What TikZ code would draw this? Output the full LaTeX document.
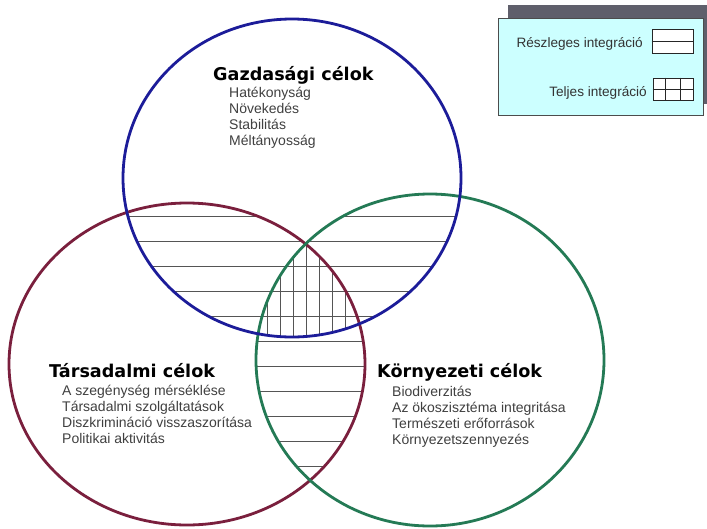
\documentclass[tikz,border=0pt]{standalone}
\usepackage{fontspec}
\setmainfont{Liberation Sans}
\newfontfamily\titlefont{DejaVu Sans}
\definecolor{gblue}{HTML}{1C1C99}
\definecolor{gred}{HTML}{7A1F3D}
\definecolor{ggreen}{HTML}{247A55}
\definecolor{legfill}{HTML}{CCFFFF}
\definecolor{legshadow}{HTML}{5F5F6B}
\definecolor{hatchc}{HTML}{555555}
\begin{document}
\begin{tikzpicture}[x=1pt,y=-1pt,
  goal/.style={line width=2.8pt},
  hatch/.style={draw=hatchc, line width=1pt},
  title/.style={anchor=base west, inner sep=0pt, font={\titlefont\bfseries\fontsize{17.6}{20}\selectfont}},
  item/.style={anchor=base west, inner sep=0pt, text=black!75, font={\fontsize{14}{16}\selectfont}},
  legtext/.style={anchor=base east, inner sep=0pt, text=black!80, font={\fontsize{13.6}{16}\selectfont}},
  legsym/.style={draw=black!85, line width=0.9pt, inner sep=0pt, fill=white}]
\useasboundingbox (0,0) rectangle (707,528);
\fill[white] (0,0) rectangle (707,528);
% centres
\coordinate (B) at (292,178);
\coordinate (R) at (187,364);
\coordinate (G) at (430,360);
\def\Bell{ellipse [x radius=169pt, y radius=159pt]}
\def\Rell{ellipse [x radius=178pt, y radius=161pt]}
\def\Gell{ellipse [x radius=174pt, y radius=166pt]}
% partial integration hatching
\begin{scope}
  \clip (B) \Bell; \clip (R) \Rell;
  \foreach \y in {216,241,...,466} \draw[hatch] (0,\y) -- (707,\y);
\end{scope}
\begin{scope}
  \clip (B) \Bell; \clip (G) \Gell;
  \foreach \y in {216,241,...,466} \draw[hatch] (0,\y) -- (707,\y);
\end{scope}
\begin{scope}
  \clip (R) \Rell; \clip (G) \Gell;
  \foreach \y in {216,241,...,466} \draw[hatch] (0,\y) -- (707,\y);
\end{scope}
% full integration hatching
\begin{scope}
  \clip (B) \Bell; \clip (R) \Rell; \clip (G) \Gell;
  \foreach \x in {241,254,...,371} \draw[hatch] (\x,200) -- (\x,360);
\end{scope}
% circles
\draw[goal, draw=gred] (R) \Rell;
\draw[goal, draw=ggreen] (G) \Gell;
\draw[goal, draw=gblue] (B) \Bell;
% texts
\node[title] (gt) at (213,80) {Gazdasági célok};
\node[item] (g1) at (229,97) {Hatékonyság};
\node[item] (g2) at (229,113) {Növekedés};
\node[item] (g3) at (229,129) {Stabilitás};
\node[item] (g4) at (229,145) {Méltányosság};
\node[title] (tt) at (49,377) {Társadalmi célok};
\node[item] (t1) at (62,395) {A szegénység mérséklése};
\node[item] (t2) at (62,411) {Társadalmi szolgáltatások};
\node[item] (t3) at (62,427) {Diszkrimináció visszaszorítása};
\node[item] (t4) at (62,443) {Politikai aktivitás};
\node[title] (kt) at (377,377) {Környezeti célok};
\node[item] (k1) at (392,396) {Biodiverzitás};
\node[item] (k2) at (392,412) {Az ökoszisztéma integritása};
\node[item] (k3) at (392,428) {Természeti erőforrások};
\node[item] (k4) at (392,444) {Környezetszennyezés};
% legend
\fill[legshadow] (508,5) rectangle (707,104);
\node[draw=black!70, line width=0.8pt, fill=legfill, minimum width=205pt, minimum height=97pt, inner sep=0pt] (leg) at (600.5,66.5) {};
\node[legtext] (lt1) at (643,47) {Részleges integráció};
\node[legtext] (lt2) at (647,96) {Teljes integráció};
\node[legsym, minimum width=41pt, minimum height=24pt] (ls1) at (672.5,41) {};
\draw[draw=black!85, line width=0.9pt] (ls1.west) -- (ls1.east);
\node[legsym, minimum width=40pt, minimum height=22pt] (ls2) at (673,89) {};
\draw[draw=black!85, line width=0.9pt] (ls2.west) -- (ls2.east);
\draw[draw=black!85, line width=0.9pt] ([xshift=13.33pt]ls2.north west) -- ([xshift=13.33pt]ls2.south west);
\draw[draw=black!85, line width=0.9pt] ([xshift=-13.33pt]ls2.north east) -- ([xshift=-13.33pt]ls2.south east);
\end{tikzpicture}
\end{document}
